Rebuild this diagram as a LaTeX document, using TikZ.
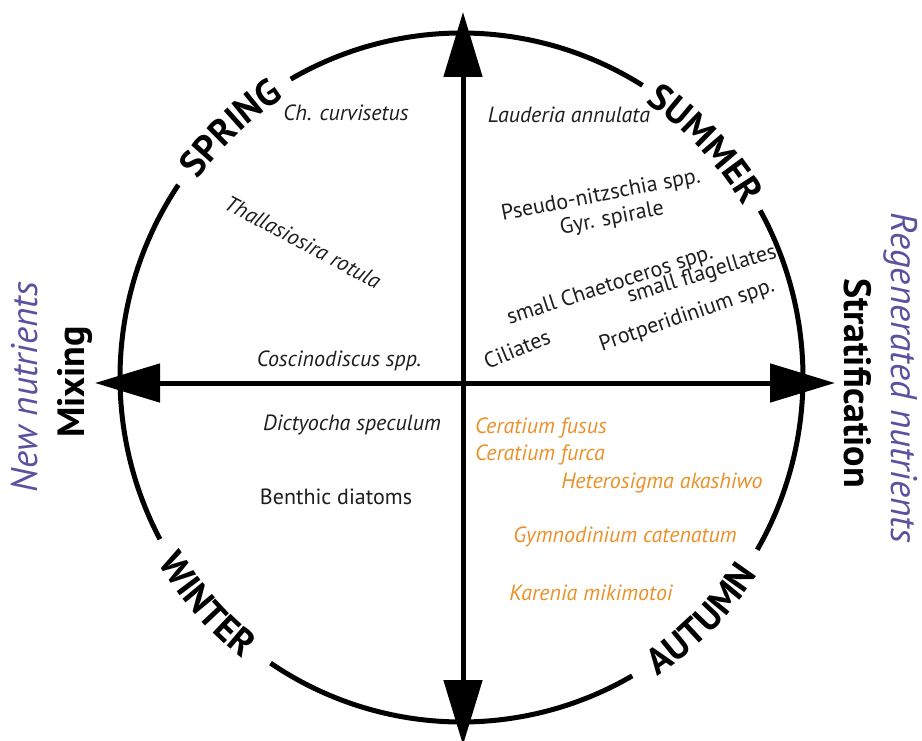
\documentclass[tikz,border=0pt]{standalone}
\usepackage{fontspec}
\setmainfont{PT Sans}
\usetikzlibrary{arrows.meta,decorations.text,calc}
\definecolor{orng}{RGB}{235,145,40}
\definecolor{purp}{RGB}{88,82,160}
\definecolor{txt}{RGB}{30,30,30}
\newcommand\seasonfont{\fontsize{37}{37}\selectfont\bfseries}
\begin{document}
\begin{tikzpicture}[x=1pt,y=1pt,
  ring/.style={line width=5pt, black},
  axis/.style={line width=5pt, black, {Triangle[length=65pt,width=38pt]}-{Triangle[length=65pt,width=38pt]}},
  sp/.style={font=\fontsize{22}{22}\selectfont\itshape, text=txt, inner sep=0pt},
  spr/.style={font=\fontsize{22}{22}\selectfont, text=txt, inner sep=0pt},
  osp/.style={font=\fontsize{22}{22}\selectfont\itshape, text=orng, inner sep=0pt},
  axlab/.style={font=\fontsize{38}{38}\selectfont\bfseries, text=black, inner sep=0pt},
  nutlab/.style={font=\fontsize{37}{37}\selectfont\itshape, text=purp, inner sep=0pt},
  season/.style={decorate, decoration={text along path, text align=center, text={|\seasonfont|#1}}}
]
\useasboundingbox (0,0) rectangle (922,-741);
\fill[white] (0,0) rectangle (922,-741);
\coordinate (C) at (461.5,-377.5);
% ring with gaps
\draw[ring] ($(C)+(58:341.5 and 344.5)$) arc[start angle=58,end angle=120,x radius=341.5,y radius=344.5];
\draw[ring] ($(C)+(146:341.5 and 344.5)$) arc[start angle=146,end angle=208,x radius=341.5,y radius=344.5];
\draw[ring] ($(C)+(236:341.5 and 344.5)$) arc[start angle=236,end angle=300,x radius=341.5,y radius=344.5];
\draw[ring] ($(C)+(330:341.5 and 344.5)$) arc[start angle=330,end angle=389,x radius=341.5,y radius=344.5];
% season labels
\path[season=SPRING] ($(C)+(147:329 and 332)$) arc[start angle=147,end angle=119,x radius=329,y radius=332];
\path[season=SUMMER] ($(C)+(60:329 and 332)$) arc[start angle=60,end angle=27,x radius=329,y radius=332];
\path[season=WINTER] ($(C)+(205:355 and 358)$) arc[start angle=205,end angle=238,x radius=355,y radius=358];
\path[season=AUTUMN] ($(C)+(297:355 and 358)$) arc[start angle=297,end angle=333,x radius=355,y radius=358];
% axes
\coordinate (top) at (463,-12);
\coordinate (bot) at (463,-745);
\coordinate (lft) at (95,-383);
\coordinate (rgt) at (835,-383);
\draw[axis] (bot) -- (top);
\draw[axis] (lft) -- (rgt);
% axis labels
\node[axlab, rotate=90] (mix) at (75,-382) {Mixing};
\node[axlab, rotate=-90] (strat) at (858,-383) {Stratification};
\node[nutlab, rotate=90] (newn) at (25,-387) {New nutrients};
\node[nutlab, rotate=-90] (regn) at (901,-378) {Regenerated nutrients};
% spring
\node[sp] (chc) at (346,-113) {Ch. curvisetus};
\node[sp, rotate=-28] (thr) at (303,-242) {Thallasiosira rotula};
\node[sp] (cos) at (339,-361) {Coscinodiscus spp.};
% summer
\node[sp] (lau) at (569,-115) {Lauderia annulata};
\node[spr, rotate=11] (pse) at (601,-196) {Pseudo-nitzschia spp.};
\node[spr, rotate=11] (gyr) at (612,-219) {Gyr. spirale};
\node[spr, rotate=18] (cha) at (610,-286) {small Chaetoceros spp.};
\node[spr, rotate=17] (fla) at (702,-275) {small flagellates};
\node[spr, rotate=19] (pro) at (687,-316) {Protperidinium spp.};
\node[spr, rotate=22] (cil) at (517,-349) {Ciliates};
% winter
\node[sp] (dic) at (352,-425) {Dictyocha speculum};
\node[spr] (ben) at (336,-497) {Benthic diatoms};
% autumn
\node[osp] (cfu) at (541,-428) {Ceratium fusus};
\node[osp] (cfc) at (540,-455) {Ceratium furca};
\node[osp] (het) at (662,-483) {Heterosigma akashiwo};
\node[osp] (gym) at (625,-537) {Gymnodinium catenatum};
\node[osp] (kar) at (591,-593) {Karenia mikimotoi};
\end{tikzpicture}
\end{document}
